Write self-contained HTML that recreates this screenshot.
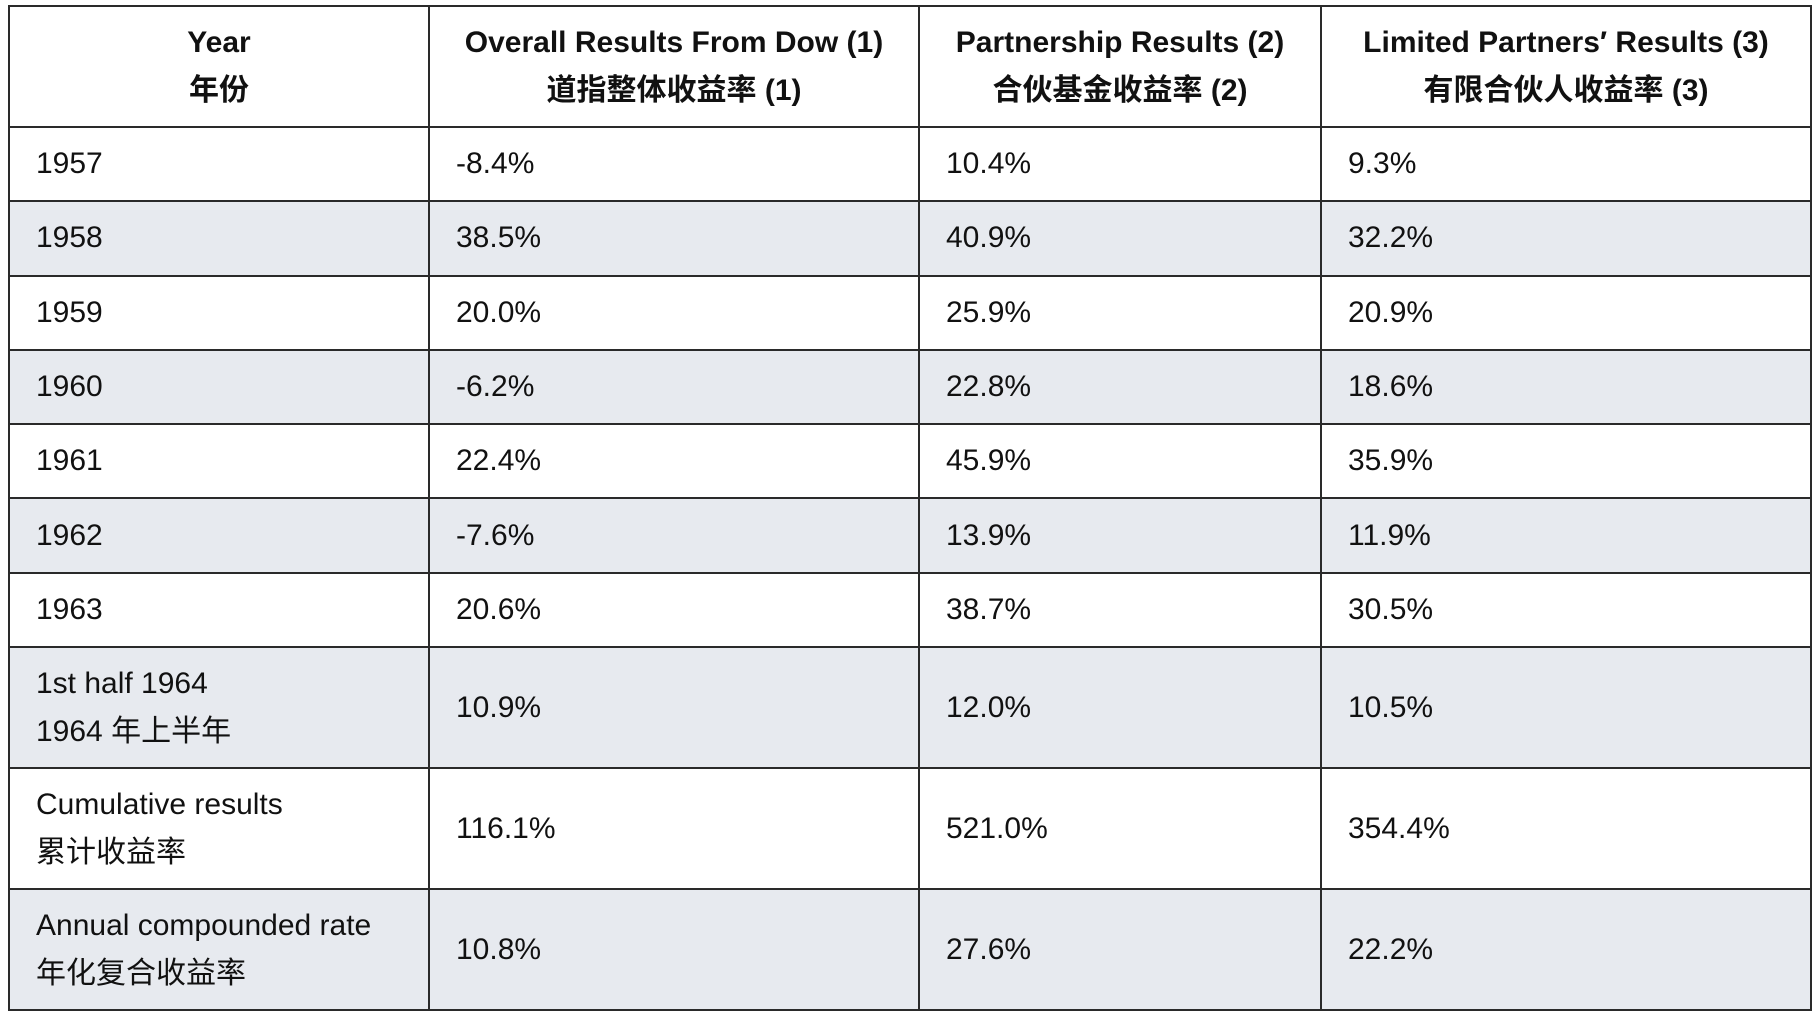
<!DOCTYPE html>
<html><head><meta charset="utf-8"><style>
html,body{margin:0;padding:0;background:#fff;width:1818px;height:1020px;overflow:hidden}
table{position:absolute;left:8px;top:5px;border-collapse:collapse;table-layout:fixed;width:1802px;font-family:"Liberation Sans","Noto Sans CJK SC",sans-serif;font-size:30px;color:#111}
td,th{border:2px solid #2a2a2a;padding:0 0 0 26px;line-height:48px;text-align:left;vertical-align:middle}
th{text-align:center;padding:0;font-weight:bold}
tr.h{height:121px}tr.r{height:74.3px}tr.t{height:121px}
tr.g{background:#e7eaef}
</style></head><body>
<table>
<colgroup><col style="width:420px"><col style="width:490px"><col style="width:402px"><col style="width:490px"></colgroup>
<tr class="h">
<th>Year<br>年份</th>
<th>Overall Results From Dow (1)<br>道指整体收益率 (1)</th>
<th>Partnership Results (2)<br>合伙基金收益率 (2)</th>
<th>Limited Partners′ Results (3)<br>有限合伙人收益率 (3)</th></tr>
<tr class="r"><td>1957</td><td>-8.4%</td><td>10.4%</td><td>9.3%</td></tr>
<tr class="r g"><td>1958</td><td>38.5%</td><td>40.9%</td><td>32.2%</td></tr>
<tr class="r"><td>1959</td><td>20.0%</td><td>25.9%</td><td>20.9%</td></tr>
<tr class="r g"><td>1960</td><td>-6.2%</td><td>22.8%</td><td>18.6%</td></tr>
<tr class="r"><td>1961</td><td>22.4%</td><td>45.9%</td><td>35.9%</td></tr>
<tr class="r g"><td>1962</td><td>-7.6%</td><td>13.9%</td><td>11.9%</td></tr>
<tr class="r"><td>1963</td><td>20.6%</td><td>38.7%</td><td>30.5%</td></tr>
<tr class="t g"><td>1st half 1964<br>1964 年上半年</td><td>10.9%</td><td>12.0%</td><td>10.5%</td></tr>
<tr class="t"><td>Cumulative results<br>累计收益率</td><td>116.1%</td><td>521.0%</td><td>354.4%</td></tr>
<tr class="t g"><td>Annual compounded rate<br>年化复合收益率</td><td>10.8%</td><td>27.6%</td><td>22.2%</td></tr>
</table>
</body></html>
